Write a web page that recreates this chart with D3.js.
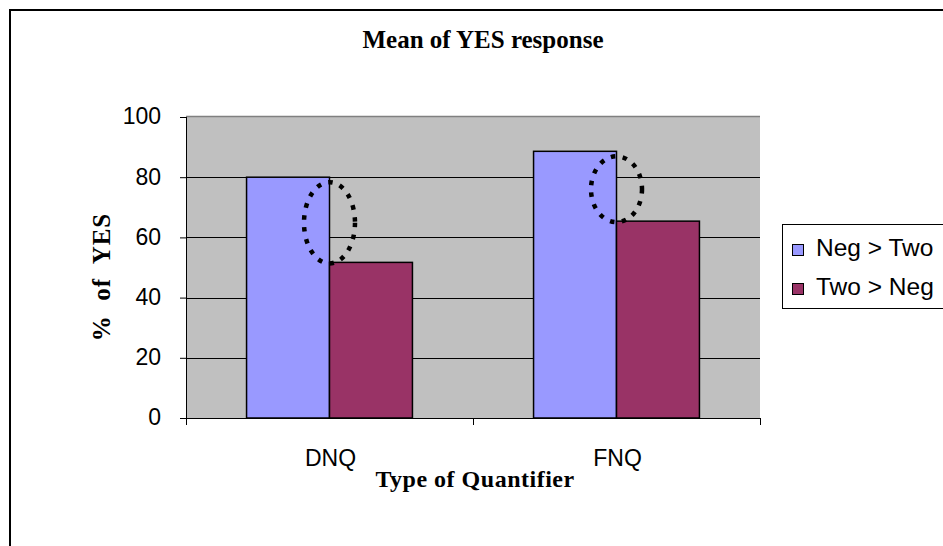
<!DOCTYPE html>
<html><head><meta charset="utf-8">
<script src="https://cdn.jsdelivr.net/npm/d3@7"></script>
<style>body{margin:0;background:#fff}svg{display:block}</style>
</head><body>
<script>
const categories = ["DNQ", "FNQ"];
const seriesNames = ["Neg > Two", "Two > Neg"];
const negGtTwo = [80, 88.6];
const twoGtNeg = [51.7, 65.4];
const yTicks = [0, 20, 40, 60, 80, 100];
const colors = ["#9999FF", "#993366"];

const W = 943, H = 546;
const svg = d3.select("body").append("svg").attr("width", W).attr("height", H);
const sans = "Arial, 'Liberation Sans', sans-serif";
const serif = "'Liberation Serif', 'Times New Roman', serif";

// outer chart border
svg.append("rect").attr("x", 10).attr("y", 10).attr("width", 960).attr("height", 600)
  .attr("fill", "#fff").attr("stroke", "#000").attr("stroke-width", 2);

const pLeft = 186, pRight = 760, pTop = 117, pBottom = 418;
const x = d3.scaleBand().domain(categories).range([pLeft, pRight]).paddingInner(0).paddingOuter(0);
const y = d3.scaleLinear().domain([0, 100]).range([pBottom, pTop]);
const gw = x.bandwidth() * 0.578;
const xs = d3.scaleBand().domain(seriesNames).range([0, gw]);

// plot area
svg.append("rect").attr("x", pLeft).attr("y", pTop).attr("width", pRight - pLeft).attr("height", pBottom - pTop)
  .attr("fill", "#C0C0C0");
svg.append("line").attr("x1", pLeft).attr("x2", pRight).attr("y1", pTop - 0.5).attr("y2", pTop - 0.5)
  .attr("stroke", "#808080").attr("stroke-width", 1.5);

// gridlines
svg.append("g").selectAll("line").data(yTicks.filter(d => d > 0 && d < 100)).join("line")
  .attr("x1", pLeft).attr("x2", pRight)
  .attr("y1", d => Math.round(y(d)) + 0.5).attr("y2", d => Math.round(y(d)) + 0.5)
  .attr("stroke", "#000").attr("stroke-width", 1);

// bars
const data = categories.map((c, i) => ({c, vals: [negGtTwo[i], twoGtNeg[i]]}));
const grp = svg.append("g").selectAll("g").data(data).join("g")
  .attr("transform", d => `translate(${x(d.c) + (x.bandwidth() - gw) / 2},0)`);
grp.selectAll("rect").data(d => d.vals.map((v, j) => ({v, s: seriesNames[j], j}))).join("rect")
  .attr("x", d => xs(d.s)).attr("width", xs.bandwidth())
  .attr("y", d => y(d.v)).attr("height", d => y(0) - y(d.v))
  .attr("fill", d => colors[d.j]).attr("stroke", "#000").attr("stroke-width", 1.5);

// dotted ellipses (annotations spanning the gap between the two bars)
grp.append("ellipse")
  .attr("cx", d => xs.bandwidth())
  .attr("cy", d => (y(d.vals[0]) + y(d.vals[1])) / 2 + 3)
  .attr("rx", 25.5)
  .attr("ry", d => (y(d.vals[1]) - y(d.vals[0])) / 2 - 2)
  .attr("fill", "none").attr("stroke", "#000").attr("stroke-width", 4.5)
  .attr("stroke-dasharray", "4.5,7.5");

// y axis
const yAxis = d3.axisLeft(y).tickValues(yTicks).tickSize(6).tickPadding(19);
const ya = svg.append("g").attr("transform", `translate(${pLeft},0)`).call(yAxis);
ya.select(".domain").attr("stroke", "#000").attr("d", `M0.5,${pTop}V${pBottom}`);
ya.selectAll(".tick line").attr("stroke", "#000");
ya.selectAll("text").attr("font-family", sans).attr("font-size", 23).attr("fill", "#000").attr("dy", "0.3em");

// x axis
const xa = svg.append("g").attr("transform", `translate(0,${pBottom})`);
xa.append("line").attr("x1", pLeft - 6).attr("x2", pRight).attr("y1", 0.5).attr("y2", 0.5).attr("stroke", "#000");
const bounds = [pLeft, x(categories[1]), pRight];
xa.selectAll("line.t").data(bounds).join("line").attr("class", "t")
  .attr("x1", d => d + 0.5).attr("x2", d => d + 0.5).attr("y1", 0).attr("y2", 7).attr("stroke", "#000");
xa.selectAll("text").data(categories).join("text")
  .attr("x", d => x(d) + x.bandwidth() / 2 + 1).attr("y", 48)
  .attr("text-anchor", "middle").attr("font-family", sans)
  .attr("font-size", 23).text(d => d);

// titles
svg.append("text").attr("x", 483).attr("y", 48).attr("text-anchor", "middle")
  .attr("font-family", serif).attr("font-weight", "bold")
  .attr("font-size", 25).text("Mean of YES response");
svg.append("text").attr("x", 475).attr("y", 487).attr("text-anchor", "middle")
  .attr("font-family", serif).attr("font-weight", "bold")
  .attr("font-size", 24).attr("letter-spacing", 0.5).text("Type of Quantifier");
svg.append("text").attr("transform", "translate(110,277) rotate(-90)").attr("text-anchor", "middle")
  .attr("font-family", serif).attr("font-weight", "bold")
  .attr("font-size", 25).attr("xml:space", "preserve").attr("letter-spacing", 1).text("%  of  YES");

// legend
const lg = svg.append("g");
lg.append("rect").attr("x", 782.5).attr("y", 224.5).attr("width", 200).attr("height", 84)
  .attr("fill", "#fff").attr("stroke", "#000").attr("stroke-width", 1);
const li = lg.selectAll("g").data(seriesNames).join("g")
  .attr("transform", (d, i) => `translate(792,${256 + i * 39})`);
li.append("rect").attr("x", 0.5).attr("y", -11.5).attr("width", 11).attr("height", 11)
  .attr("fill", (d, i) => colors[i]).attr("stroke", "#000").attr("stroke-width", 1);
li.append("text").attr("x", 24).attr("y", 0).attr("font-family", sans)
  .attr("font-size", 24.5).text(d => d);
</script>
</body></html>
